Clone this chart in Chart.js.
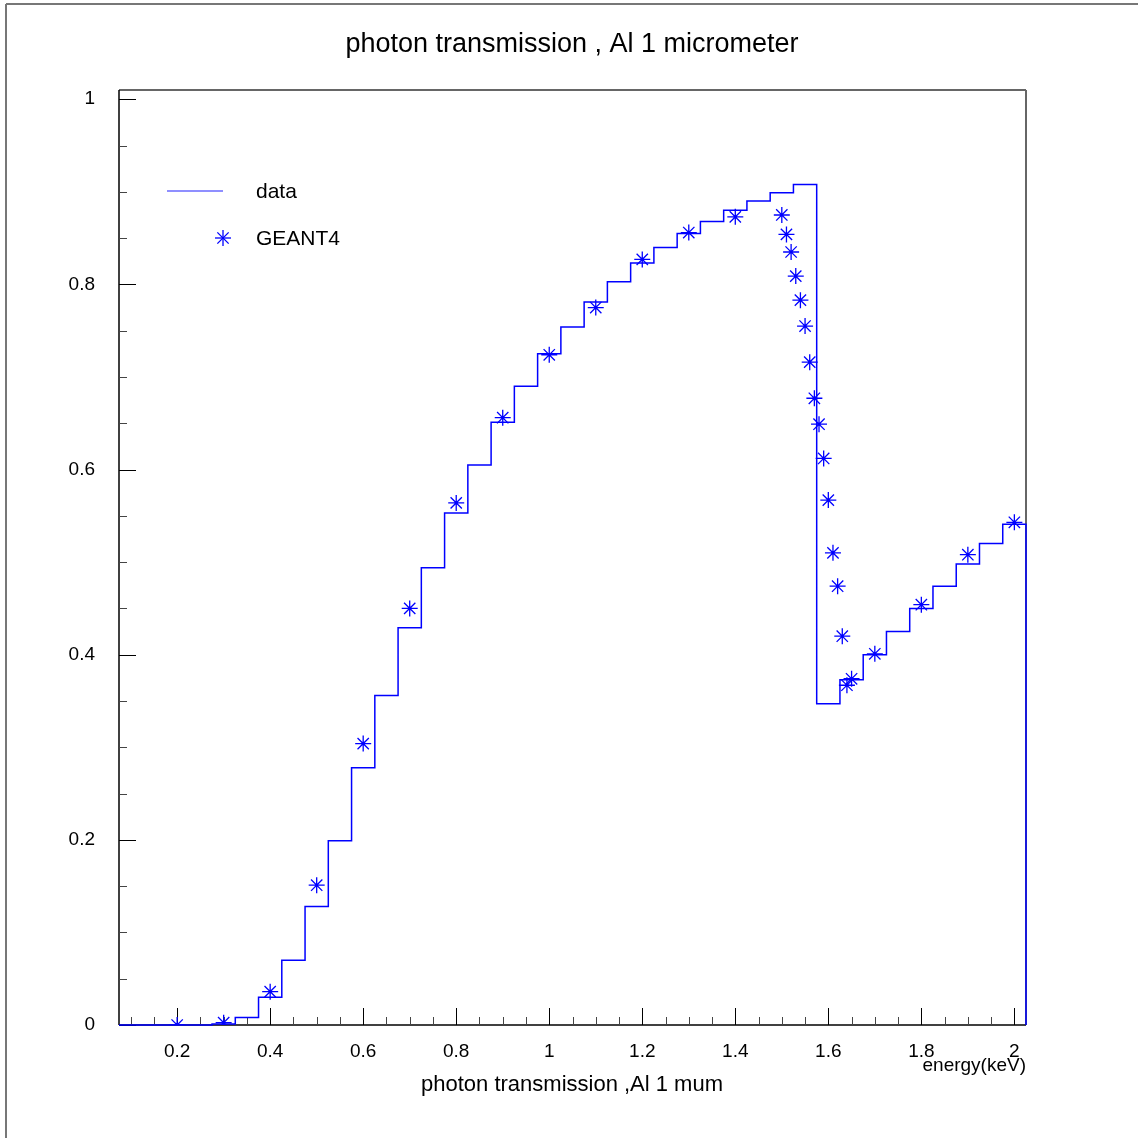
<!DOCTYPE html>
<html>
<head>
<meta charset="utf-8">
<script src="https://cdn.jsdelivr.net/npm/chart.js@4"></script>
<style>
  html, body { margin: 0; padding: 0; background: #fff; }
  canvas { display: block; }
</style>
</head>
<body>
<canvas id="transChart" width="1138" height="1138"></canvas>
<script>
// photon transmission through 1 micrometer of aluminium, data vs GEANT4

// histogram bins (centres, keV), bin width 0.05
const binCenters = [0.10, 0.15, 0.20, 0.25, 0.30, 0.35, 0.40, 0.45, 0.50, 0.55,
  0.60, 0.65, 0.70, 0.75, 0.80, 0.85, 0.90, 0.95, 1.00, 1.05,
  1.10, 1.15, 1.20, 1.25, 1.30, 1.35, 1.40, 1.45, 1.50, 1.55,
  1.60, 1.65, 1.70, 1.75, 1.80, 1.85, 1.90, 1.95, 2.00];
const binWidth = 0.05;
const dataValues = [0, 0, 0, 0, 0.001, 0.008, 0.030, 0.070, 0.128, 0.199,
  0.278, 0.356, 0.429, 0.494, 0.553, 0.605, 0.651, 0.690, 0.725, 0.754,
  0.781, 0.803, 0.823, 0.840, 0.855, 0.868, 0.880, 0.890, 0.899, 0.908,
  0.347, 0.373, 0.400, 0.425, 0.450, 0.474, 0.498, 0.520, 0.541];

// GEANT4 simulation points
const geantEnergy = [0.2, 0.3, 0.4, 0.5, 0.6, 0.7, 0.8, 0.9, 1.0, 1.1, 1.2, 1.3, 1.4,
  1.50, 1.51, 1.52, 1.53, 1.54, 1.55, 1.56, 1.57, 1.58, 1.59, 1.60, 1.61, 1.62, 1.63, 1.64, 1.65,
  1.7, 1.8, 1.9, 2.0];
const geantValues = [0, 0.0025, 0.036, 0.151, 0.304, 0.450, 0.564, 0.656, 0.724, 0.775, 0.827, 0.856, 0.873,
  0.875, 0.854, 0.835, 0.809, 0.783, 0.755, 0.716, 0.677, 0.649, 0.612, 0.567, 0.510, 0.474, 0.420, 0.367, 0.374,
  0.401, 0.454, 0.508, 0.543];

// axis ticks
const xTickValues = [0.10, 0.15, 0.20, 0.25, 0.30, 0.35, 0.40, 0.45, 0.50, 0.55,
  0.60, 0.65, 0.70, 0.75, 0.80, 0.85, 0.90, 0.95, 1.00, 1.05,
  1.10, 1.15, 1.20, 1.25, 1.30, 1.35, 1.40, 1.45, 1.50, 1.55,
  1.60, 1.65, 1.70, 1.75, 1.80, 1.85, 1.90, 1.95, 2.00];
const yTickValues = [0, 0.05, 0.10, 0.15, 0.20, 0.25, 0.30, 0.35, 0.40, 0.45, 0.50,
  0.55, 0.60, 0.65, 0.70, 0.75, 0.80, 0.85, 0.90, 0.95, 1.00];
const xMin = 0.075, xMax = 2.025;
const yMin = 0, yMax = 1.01;

const titleText = 'photon transmission , Al 1 micrometer';
const xTitleText = 'photon transmission ,Al 1 mum';
const xUnitText = 'energy(keV)';
const legendLabels = ['data', 'GEANT4'];

const FONT = '"Liberation Sans", Arial, Helvetica, sans-serif';
const BLUE = '#0000ff';

function isMajor(v) {
  const r = v / 0.2;
  return Math.abs(r - Math.round(r)) < 1e-6;
}
function fmt(v) {
  return String(parseFloat(v.toFixed(2)));
}

// histogram outline: left edge of each bin, then close at the last right edge
const histPoints = binCenters.map((c, i) => ({ x: c - binWidth / 2, y: dataValues[i] }));
const lastEdge = binCenters[binCenters.length - 1] + binWidth / 2;
histPoints.push({ x: lastEdge, y: dataValues[dataValues.length - 1] });
histPoints.push({ x: lastEdge, y: 0 });

const geantPoints = geantEnergy.map((e, i) => ({ x: e, y: geantValues[i] }));

function line(ctx, x1, y1, x2, y2) {
  ctx.beginPath();
  ctx.moveTo(x1, y1);
  ctx.lineTo(x2, y2);
  ctx.stroke();
}

const rootFrame = {
  id: 'rootFrame',
  beforeDraw(chart) {
    const ctx = chart.ctx;
    ctx.save();
    ctx.fillStyle = '#fff';
    ctx.fillRect(0, 0, chart.width, chart.height);
    // outer pad border
    ctx.strokeStyle = '#777';
    ctx.lineWidth = 2;
    line(ctx, 6, 4, 6, chart.height);
    line(ctx, 6, 4, chart.width, 4);
    ctx.restore();
  },
  beforeDatasetsDraw(chart) {
    const ctx = chart.ctx;
    const a = chart.chartArea;
    const xs = chart.scales.x, ys = chart.scales.y;
    ctx.save();
    // frame top and right
    ctx.strokeStyle = '#666';
    ctx.lineWidth = 2;
    line(ctx, a.left, a.top, a.right, a.top);
    line(ctx, a.right, a.top, a.right, a.bottom);
    // axes
    ctx.strokeStyle = '#000';
    ctx.lineWidth = 1.5;
    line(ctx, a.left, a.top, a.left, a.bottom);
    line(ctx, a.left, a.bottom, a.right, a.bottom);
    // tick marks pointing inside
    ctx.lineWidth = 1;
    xs.ticks.forEach(t => {
      const px = Math.round(xs.getPixelForValue(t.value)) + 0.5;
      const len = isMajor(t.value) ? 17 : 8;
      ctx.strokeStyle = isMajor(t.value) ? '#000' : '#444';
      line(ctx, px, a.bottom, px, a.bottom - len);
    });
    ys.ticks.forEach(t => {
      const py = Math.round(ys.getPixelForValue(t.value)) + 0.5;
      const len = isMajor(t.value) ? 17 : 8;
      ctx.strokeStyle = isMajor(t.value) ? '#000' : '#444';
      line(ctx, a.left, py, a.left + len, py);
    });
    ctx.restore();
  },
  afterDraw(chart) {
    const ctx = chart.ctx;
    const a = chart.chartArea;
    ctx.save();
    // texts
    ctx.fillStyle = '#000';
    ctx.textBaseline = 'middle';
    ctx.textAlign = 'center';
    ctx.font = '27px ' + FONT;
    ctx.fillText(titleText, 572, 45);
    ctx.font = '22px ' + FONT;
    ctx.fillText(xTitleText, 572, 1085);
    ctx.textAlign = 'right';
    ctx.font = '19px ' + FONT;
    ctx.fillText(xUnitText, a.right, 1066);
    // legend
    ctx.textAlign = 'left';
    ctx.font = '21px ' + FONT;
    ctx.strokeStyle = '#6a6aff';
    ctx.lineWidth = 1.5;
    line(ctx, 167, 191, 223, 191);
    ctx.fillText(legendLabels[0], 256, 192);
    const sx = 223, sy = 238, r = 8;
    ctx.strokeStyle = BLUE;
    ctx.lineWidth = 1.3;
    line(ctx, sx - r, sy, sx + r, sy);
    line(ctx, sx, sy - r, sx, sy + r);
    const d = r * 0.7071;
    line(ctx, sx - d, sy - d, sx + d, sy + d);
    line(ctx, sx - d, sy + d, sx + d, sy - d);
    ctx.fillText(legendLabels[1], 256, 239);
    ctx.restore();
  }
};

new Chart(document.getElementById('transChart'), {
  data: {
    datasets: [
      {
        type: 'line',
        label: legendLabels[0],
        data: histPoints,
        stepped: true,
        borderColor: BLUE,
        borderWidth: 1.5,
        pointRadius: 0,
        fill: false,
        clip: false,
        order: 2
      },
      {
        type: 'scatter',
        label: legendLabels[1],
        data: geantPoints,
        pointStyle: 'star',
        pointRadius: 8,
        borderColor: BLUE,
        backgroundColor: BLUE,
        pointBorderWidth: 1.3,
        order: 1
      }
    ]
  },
  options: {
    responsive: false,
    animation: false,
    devicePixelRatio: 1,
    layout: { padding: { left: 0, top: 90, right: 112, bottom: 0 } },
    plugins: { legend: { display: false }, title: { display: false }, tooltip: { enabled: false } },
    scales: {
      x: {
        type: 'linear',
        min: xMin,
        max: xMax,
        grid: { display: false, drawTicks: false },
        border: { display: false },
        afterBuildTicks: s => { s.ticks = xTickValues.map(v => ({ value: v })); },
        afterFit: s => { s.height = 113; },
        ticks: {
          autoSkip: false,
          maxRotation: 0,
          padding: 15,
          color: '#000',
          font: { family: FONT, size: 19 },
          callback: v => (isMajor(v) ? fmt(v) : '')
        }
      },
      y: {
        type: 'linear',
        min: yMin,
        max: yMax,
        grid: { display: false, drawTicks: false },
        border: { display: false },
        afterBuildTicks: s => { s.ticks = yTickValues.map(v => ({ value: v })); },
        afterFit: s => { s.width = 119; },
        ticks: {
          autoSkip: false,
          padding: 24,
          color: '#000',
          font: { family: FONT, size: 19 },
          callback: v => (isMajor(v) ? fmt(v) : '')
        }
      }
    }
  },
  plugins: [rootFrame]
});
</script>
</body>
</html>
